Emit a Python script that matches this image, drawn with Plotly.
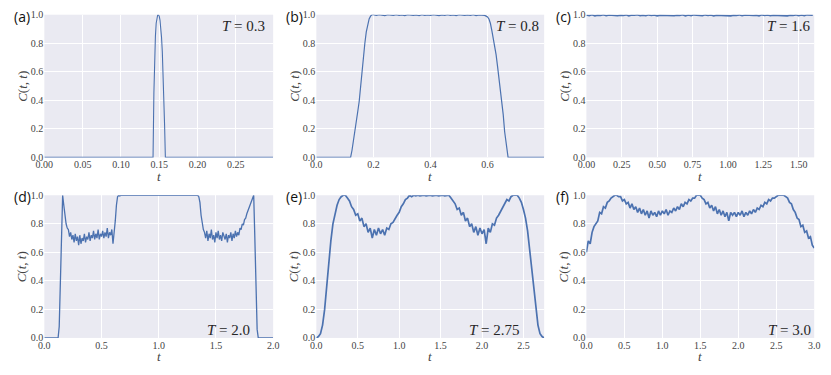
import numpy as np
import plotly.graph_objects as go

# (a) T = 0.3
t_a = [0.0, 0.1419, 0.143, 0.144, 0.145, 0.146, 0.147, 0.148, 0.149, 0.150,
       0.151, 0.152, 0.153, 0.154, 0.155, 0.156, 0.157, 0.158, 0.2987]
c_a = [0.0, 0.0, 0.45, 0.70, 0.85, 0.94, 0.98, 1.0, 1.0, 0.99,
       0.96, 0.91, 0.84, 0.74, 0.60, 0.42, 0.22, 0.0, 0.0]

# (b) T = 0.8
t_b_rise = [0.0, 0.12, 0.125, 0.13, 0.135, 0.14, 0.145, 0.15, 0.155, 0.16,
            0.165, 0.17, 0.175, 0.18, 0.185, 0.19, 0.195]
c_b_rise = [0.0, 0.0, 0.05, 0.11, 0.17, 0.25, 0.32, 0.39, 0.50, 0.62,
            0.71, 0.80, 0.88, 0.94, 0.97, 0.99, 1.0]
c_b_flat = [1.00, 0.995, 1.00, 0.998, 0.993, 1.00, 0.997, 0.995, 1.00, 0.996,
            0.998, 0.994, 1.00, 0.997, 0.995, 0.999, 0.993, 1.00, 0.996, 0.998,
            0.995, 1.00, 0.997, 0.994, 0.999, 0.996, 1.00, 0.995, 0.998, 0.993,
            1.00, 0.997, 0.995, 0.999, 0.996, 1.00, 0.994, 0.998, 0.997]
t_b_fall = [0.59, 0.595, 0.60, 0.605, 0.61, 0.615, 0.62, 0.625, 0.63, 0.635,
            0.64, 0.645, 0.65, 0.655, 0.66, 0.665, 0.67, 0.672, 0.7985]
c_b_fall = [0.995, 0.99, 0.985, 0.97, 0.94, 0.89, 0.84, 0.79, 0.72, 0.64,
            0.56, 0.48, 0.40, 0.30, 0.18, 0.09, 0.02, 0.0, 0.0]

# (c) T = 1.6, sampled every 0.02
c_c = [0.998, 0.994, 0.999, 0.992, 0.997, 0.995, 1.000, 0.993, 0.998, 0.996,
       0.999, 0.993, 0.997, 0.995, 0.999, 0.992, 0.998, 0.996, 1.000, 0.994,
       0.997, 0.993, 0.999, 0.995, 0.998, 0.992, 0.997, 0.996, 0.999, 0.994,
       0.998, 0.993, 0.997, 0.995, 1.000, 0.992, 0.998, 0.994, 0.999, 0.996,
       0.997, 0.993, 0.999, 0.995, 0.998, 0.991, 0.997, 0.996, 1.000, 0.994,
       0.998, 0.992, 0.997, 0.995, 0.999, 0.993, 0.998, 0.996, 0.999, 0.994,
       0.997, 0.992, 0.999, 0.995, 0.998, 0.993, 0.997, 0.996, 1.000, 0.994,
       0.998, 0.992, 0.997, 0.995, 0.999, 0.993, 0.998, 0.994, 0.999, 0.996,
       0.997]

# (d) T = 2.0, sampled every 0.01
c_d = [0.0, 0.0, 0.0, 0.0, 0.0, 0.0, 0.0, 0.0, 0.0, 0.0,
       0.0, 0.0, 0.0, 0.08, 0.40, 0.82, 1.00, 0.93, 0.86, 0.80,
       0.77, 0.76, 0.71, 0.74, 0.69, 0.72, 0.67, 0.73, 0.68, 0.71,
       0.65, 0.72, 0.66, 0.70, 0.68, 0.73, 0.67, 0.71, 0.69, 0.74,
       0.68, 0.72, 0.70, 0.75, 0.69, 0.73, 0.70, 0.76, 0.69, 0.73,
       0.71, 0.75, 0.70, 0.74, 0.71, 0.77, 0.70, 0.74, 0.72, 0.76,
       0.66, 0.72, 0.82, 0.93, 0.99, 1.00, 0.995, 1.00, 1.00, 0.995,
       1.00, 0.995, 1.00, 1.00, 0.995, 1.00, 1.00, 0.995, 1.00, 1.00,
       0.995, 1.00, 1.00, 1.00, 0.995, 1.00, 0.995, 1.00, 1.00, 1.00,
       0.995, 1.00, 1.00, 0.995, 1.00, 1.00, 1.00, 0.995, 1.00, 1.00,
       0.995, 1.00, 1.00, 1.00, 0.995, 1.00, 1.00, 0.995, 1.00, 1.00,
       1.00, 0.995, 1.00, 1.00, 0.995, 1.00, 1.00, 1.00, 0.995, 1.00,
       1.00, 0.995, 1.00, 1.00, 1.00, 0.995, 1.00, 1.00, 0.995, 1.00,
       1.00, 1.00, 0.995, 1.00, 1.00, 0.99, 0.95, 0.86, 0.79, 0.76,
       0.74, 0.70, 0.75, 0.68, 0.73, 0.70, 0.76, 0.69, 0.72, 0.67,
       0.74, 0.70, 0.75, 0.69, 0.72, 0.68, 0.74, 0.71, 0.69, 0.73,
       0.67, 0.72, 0.70, 0.74, 0.68, 0.73, 0.70, 0.75, 0.71, 0.74,
       0.72, 0.77, 0.76, 0.80, 0.79, 0.83, 0.84, 0.87, 0.89, 0.91,
       0.93, 0.95, 0.98, 1.00, 0.70, 0.30, 0.06, 0.00, 0.00, 0.00,
       0.0, 0.0, 0.0, 0.0, 0.0, 0.0, 0.0, 0.0, 0.0, 0.0,
       0.0]

# (e) T = 2.75, sampled every 0.025
c_e = [0.00, 0.01, 0.03, 0.09, 0.20, 0.36, 0.55, 0.68, 0.80, 0.87,
       0.93, 0.97, 0.99, 1.00, 1.00, 0.98, 0.96, 0.92, 0.90, 0.86,
       0.87, 0.82, 0.84, 0.78, 0.80, 0.74, 0.77, 0.70, 0.76, 0.72,
       0.77, 0.73, 0.76, 0.72, 0.77, 0.76, 0.80, 0.81, 0.84, 0.86,
       0.88, 0.92, 0.94, 0.97, 0.98, 1.00, 0.99, 1.00, 0.995, 1.00,
       0.995, 1.00, 1.00, 0.995, 1.00, 1.00, 0.995, 1.00, 1.00, 0.995,
       1.00, 1.00, 0.995, 1.00, 1.00, 0.98, 0.96, 0.94, 0.90, 0.91,
       0.86, 0.88, 0.82, 0.84, 0.78, 0.80, 0.74, 0.78, 0.72, 0.77,
       0.73, 0.76, 0.66, 0.77, 0.74, 0.80, 0.79, 0.84, 0.86, 0.89,
       0.92, 0.94, 0.97, 0.96, 0.99, 1.00, 1.00, 1.00, 0.98, 0.95,
       0.90, 0.84, 0.75, 0.62, 0.48, 0.34, 0.20, 0.09, 0.03, 0.01,
       0.00]

# (f) T = 3.0, sampled every 0.025
c_f = [0.60, 0.68, 0.66, 0.74, 0.78, 0.80, 0.82, 0.88, 0.87, 0.92,
       0.91, 0.95, 0.96, 0.98, 0.99, 1.00, 1.00, 0.99, 0.99, 0.96,
       0.97, 0.94, 0.95, 0.91, 0.94, 0.90, 0.92, 0.88, 0.91, 0.87,
       0.90, 0.86, 0.89, 0.84, 0.89, 0.86, 0.88, 0.85, 0.89, 0.86,
       0.89, 0.87, 0.90, 0.86, 0.89, 0.88, 0.91, 0.89, 0.92, 0.90,
       0.94, 0.92, 0.95, 0.94, 0.97, 0.96, 0.98, 0.98, 1.00, 1.00,
       1.00, 0.98, 0.97, 0.94, 0.95, 0.91, 0.93, 0.89, 0.92, 0.87,
       0.90, 0.86, 0.89, 0.85, 0.88, 0.82, 0.88, 0.86, 0.88, 0.85,
       0.88, 0.86, 0.89, 0.85, 0.88, 0.86, 0.89, 0.87, 0.90, 0.88,
       0.91, 0.90, 0.93, 0.92, 0.95, 0.94, 0.97, 0.96, 0.98, 0.98,
       0.99, 1.00, 1.00, 1.00, 1.00, 0.99, 0.98, 0.95, 0.94, 0.90,
       0.88, 0.84, 0.83, 0.78, 0.79, 0.74, 0.75, 0.70, 0.71, 0.65,
       0.63]

t_b = t_b_rise + list(np.round(np.arange(20, 59) * 0.01, 2)) + t_b_fall
c_b = c_b_rise + c_b_flat + c_b_fall
t_c = np.arange(len(c_c)) * 0.02
t_d = np.arange(len(c_d)) * 0.01
t_e = np.arange(len(c_e)) * 0.025
t_f = np.arange(len(c_f)) * 0.025

labels = ["(a)", "(b)", "(c)", "(d)", "(e)", "(f)"]
temps = ["0.3", "0.8", "1.6", "2.0", "2.75", "3.0"]
x_ranges = [[0, 0.2987], [0, 0.7985], [0, 1.61], [0, 2.0], [0, 2.75], [0, 3.0]]
x_dticks = [0.05, 0.2, 0.25, 0.5, 0.5, 0.5]
x_formats = [".2f", ".1f", ".2f", ".1f", ".1f", ".1f"]
line_w = [1.1, 1.2, 1.6, 1.3, 1.7, 1.7]
series = [(t_a, c_a), (t_b, c_b), (t_c, c_c), (t_d, c_d), (t_e, c_e), (t_f, c_f)]

W, H = 831, 375
col_px = [(36, 269), (313, 545), (588, 820)]
row_px = [(10, 157), (196, 343)]

BLUE = "#4C72B0"
SERIF = "Liberation Serif"
fig = go.Figure()
annotations = []

for i, (t, c) in enumerate(series):
    r, col = divmod(i, 3)
    n = "" if i == 0 else str(i + 1)
    x0, x1 = col_px[col]
    y0, y1 = row_px[r]
    fig.add_trace(go.Scatter(x=t, y=c, mode="lines", xaxis="x" + n, yaxis="y" + n,
                             line=dict(color=BLUE, width=line_w[i]),
                             showlegend=False, hoverinfo="skip"))
    common = dict(showgrid=True, gridcolor="white", gridwidth=1, zeroline=False,
                  showline=False, ticks="", tickfont=dict(family=SERIF, size=10, color="#444"))
    fig.update_layout(**{
        "xaxis" + n: dict(domain=[x0 / W, x1 / W], range=x_ranges[i], tick0=0,
                          dtick=x_dticks[i], tickformat=x_formats[i],
                          anchor="y" + n, **common),
        "yaxis" + n: dict(domain=[1 - y1 / H, 1 - y0 / H], range=[0, 1], tick0=0,
                          dtick=0.2, tickformat=".1f", anchor="x" + n, **common),
    })
    # panel letter
    annotations.append(dict(text=labels[i], xref="paper", yref="paper",
                            x=(x0 - 33) / W, y=1 - (y0 + 1.5) / H, xanchor="left",
                            yanchor="middle", showarrow=False,
                            font=dict(family="Open Sans", size=14, color="#111")))
    # y title
    annotations.append(dict(text="<i>C</i>(<i>t</i>, <i>t</i>)", xref="paper", yref="paper",
                            x=(x0 - 23) / W, y=1 - (y0 + y1) / 2 / H, textangle=-90,
                            xanchor="center", yanchor="middle", showarrow=False,
                            font=dict(family=SERIF, size=13, color="#444")))
    # x title
    annotations.append(dict(text="<i>t</i>", xref="paper", yref="paper",
                            x=(x0 + x1) / 2 / W, y=1 - (y1 + 19.5) / H,
                            xanchor="center", yanchor="middle", showarrow=False,
                            font=dict(family=SERIF, size=13, color="#444")))

T_pos = [(263, 22), (542, 22), (819, 22), (247, 335), (522, 335), (819, 335)]
for i, (px, py) in enumerate(T_pos):
    annotations.append(dict(text="<i>T</i> = " + temps[i], xref="paper", yref="paper",
                            x=px / W, y=1 - py / H, xanchor="right", yanchor="middle",
                            showarrow=False,
                            font=dict(family=SERIF, size=15, color="#262626")))

fig.update_layout(width=W, height=H, margin=dict(l=0, r=0, t=0, b=0),
                  plot_bgcolor="#EAEAF2", paper_bgcolor="white",
                  annotations=annotations)

# the page body has a default 8px margin; drop it so the figure sits at 0,0
fig.write_html("out.html", config={"displayModeBar": False},
               post_script="document.body.style.margin='0';")
